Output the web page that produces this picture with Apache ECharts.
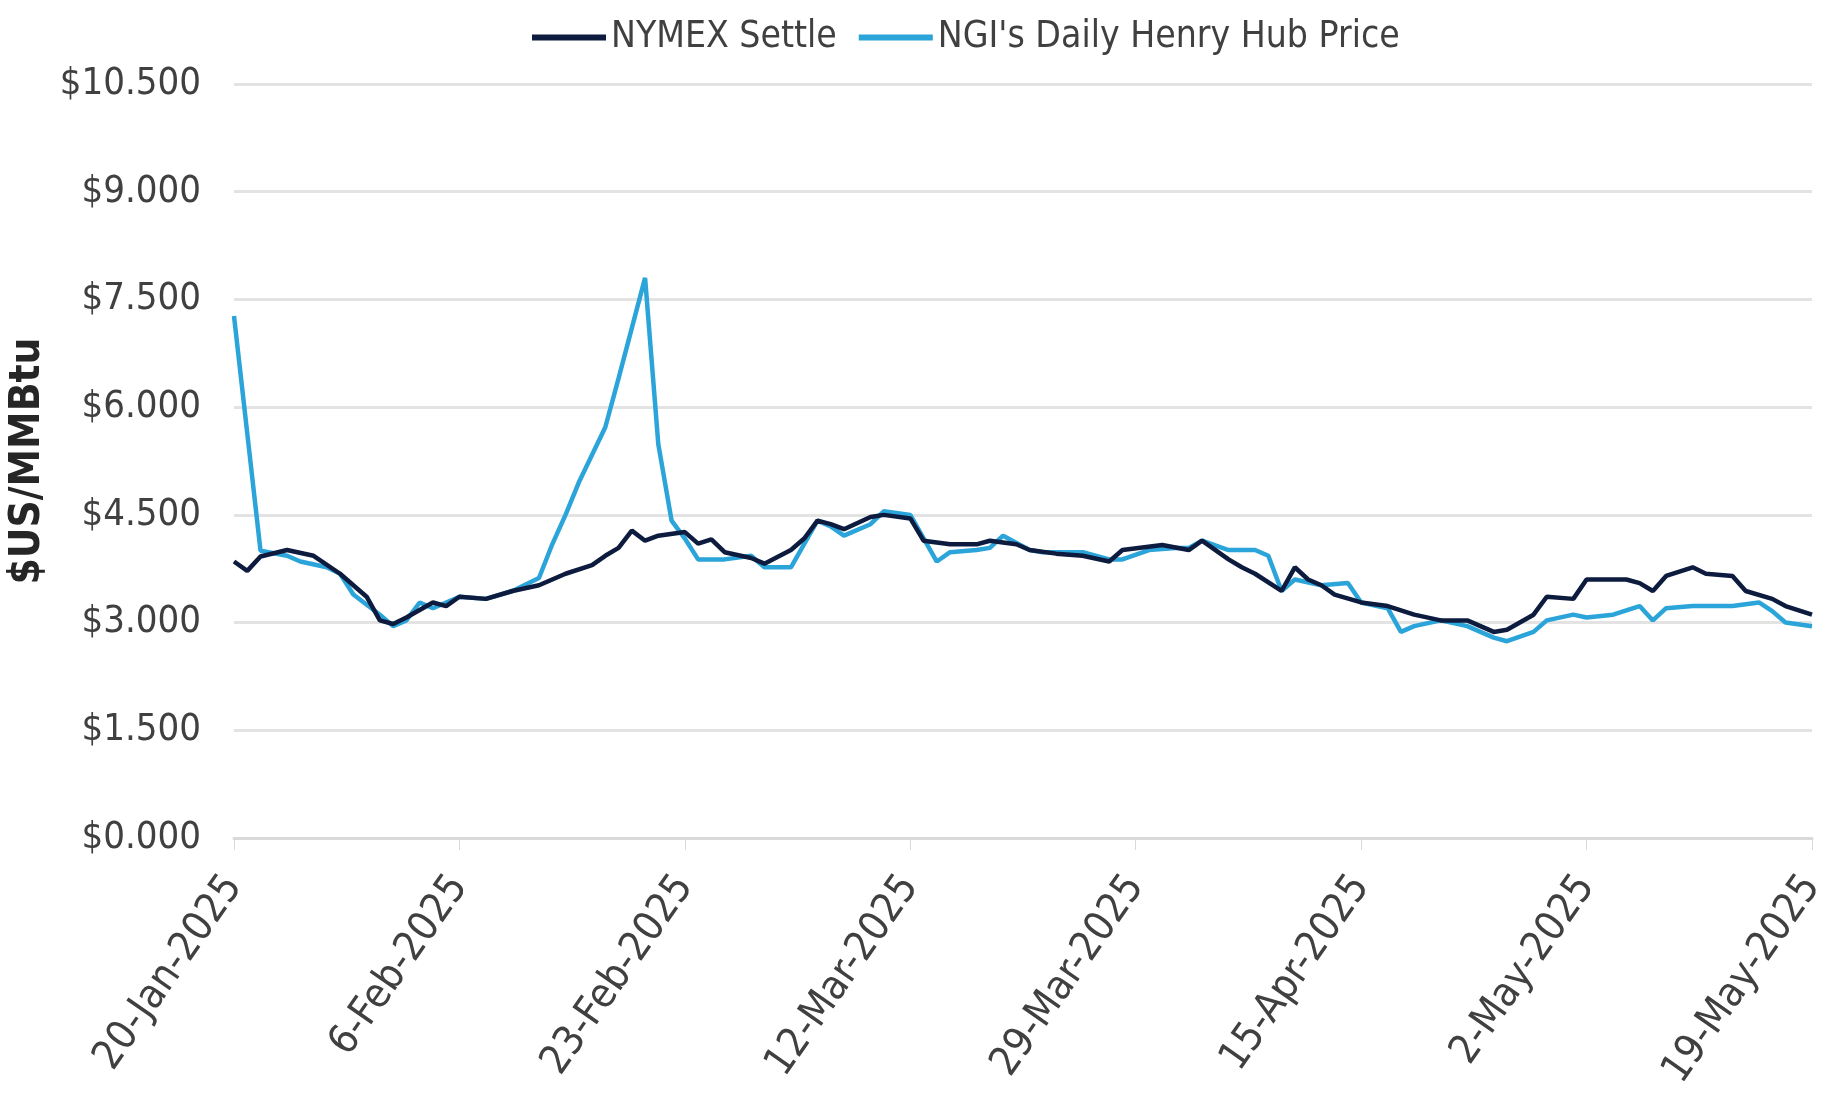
<!DOCTYPE html>
<html>
<head>
<meta charset="utf-8">
<script src="https://cdn.jsdelivr.net/npm/echarts@6/dist/echarts.min.js"></script>
<style>
  html, body { margin: 0; padding: 0; background: #fff; }
  #chart { width: 1835px; height: 1111px; }
</style>
</head>
<body>
<div id="chart"></div>
<script>
// x axis runs from 20-Jan-2025, one tick every 17 days
const startDate = '2025-01-20';
const tickDays = 17;
const lastDay = 119;
const monthNames = ['Jan', 'Feb', 'Mar', 'Apr', 'May', 'Jun', 'Jul', 'Aug', 'Sep', 'Oct', 'Nov', 'Dec'];

const nymexDates = [
	'2025-01-20', '2025-01-21', '2025-01-22', '2025-01-24', '2025-01-26', '2025-01-28', '2025-01-30', '2025-01-31',
	'2025-02-01', '2025-02-02', '2025-02-04', '2025-02-05', '2025-02-06', '2025-02-08', '2025-02-10', '2025-02-12',
	'2025-02-14', '2025-02-16', '2025-02-17', '2025-02-18', '2025-02-19', '2025-02-20', '2025-02-21', '2025-02-23',
	'2025-02-24', '2025-02-25', '2025-02-26', '2025-02-28', '2025-03-01', '2025-03-03', '2025-03-04', '2025-03-05',
	'2025-03-06', '2025-03-07', '2025-03-09', '2025-03-10', '2025-03-12', '2025-03-13', '2025-03-15', '2025-03-17',
	'2025-03-18', '2025-03-20', '2025-03-21', '2025-03-23', '2025-03-25', '2025-03-27', '2025-03-28', '2025-03-31',
	'2025-04-02', '2025-04-03', '2025-04-05', '2025-04-06', '2025-04-07', '2025-04-09', '2025-04-10', '2025-04-11',
	'2025-04-12', '2025-04-13', '2025-04-15', '2025-04-17', '2025-04-19', '2025-04-21', '2025-04-23', '2025-04-25',
	'2025-04-26', '2025-04-28', '2025-04-29', '2025-05-01', '2025-05-02', '2025-05-05', '2025-05-06', '2025-05-07',
	'2025-05-08', '2025-05-10', '2025-05-11', '2025-05-13', '2025-05-14', '2025-05-16', '2025-05-17', '2025-05-19'
];
const nymexValues = [
	3.85, 3.72, 3.92, 4.01, 3.93, 3.68, 3.36, 3.03,
	2.98, 3.07, 3.28, 3.23, 3.36, 3.33, 3.44, 3.52,
	3.68, 3.80, 3.93, 4.04, 4.28, 4.14, 4.21, 4.26,
	4.10, 4.16, 3.98, 3.90, 3.82, 4.01, 4.17, 4.42,
	4.37, 4.30, 4.47, 4.50, 4.45, 4.14, 4.09, 4.09,
	4.14, 4.09, 4.01, 3.96, 3.93, 3.85, 4.01, 4.08,
	4.01, 4.14, 3.88, 3.77, 3.68, 3.44, 3.77, 3.60,
	3.52, 3.39, 3.28, 3.23, 3.11, 3.03, 3.03, 2.87,
	2.90, 3.11, 3.36, 3.33, 3.60, 3.60, 3.55, 3.44,
	3.65, 3.77, 3.68, 3.65, 3.44, 3.33, 3.23, 3.11
];

const ngiDates = [
	'2025-01-20', '2025-01-22', '2025-01-24', '2025-01-25', '2025-01-27', '2025-01-28', '2025-01-29', '2025-01-31',
	'2025-02-01', '2025-02-02', '2025-02-03', '2025-02-04', '2025-02-06', '2025-02-08', '2025-02-10', '2025-02-12',
	'2025-02-13', '2025-02-14', '2025-02-15', '2025-02-17', '2025-02-18', '2025-02-20', '2025-02-21', '2025-02-22',
	'2025-02-23', '2025-02-24', '2025-02-26', '2025-02-28', '2025-03-01', '2025-03-03', '2025-03-05', '2025-03-06',
	'2025-03-07', '2025-03-09', '2025-03-10', '2025-03-12', '2025-03-14', '2025-03-15', '2025-03-17', '2025-03-18',
	'2025-03-19', '2025-03-21', '2025-03-22', '2025-03-25', '2025-03-27', '2025-03-28', '2025-03-30', '2025-04-01',
	'2025-04-02', '2025-04-03', '2025-04-05', '2025-04-07', '2025-04-08', '2025-04-09', '2025-04-10', '2025-04-12',
	'2025-04-14', '2025-04-15', '2025-04-17', '2025-04-18', '2025-04-19', '2025-04-21', '2025-04-23', '2025-04-25',
	'2025-04-26', '2025-04-28', '2025-04-29', '2025-05-01', '2025-05-02', '2025-05-04', '2025-05-06', '2025-05-07',
	'2025-05-08', '2025-05-10', '2025-05-13', '2025-05-15', '2025-05-16', '2025-05-17', '2025-05-19'
];
const ngiValues = [
	7.27, 4.00, 3.93, 3.85, 3.77, 3.68, 3.39, 3.11,
	2.95, 3.03, 3.28, 3.20, 3.36, 3.33, 3.44, 3.62,
	4.09, 4.50, 4.95, 5.72, 6.40, 7.80, 5.48, 4.42,
	4.17, 3.88, 3.88, 3.93, 3.77, 3.77, 4.42, 4.34,
	4.21, 4.37, 4.55, 4.50, 3.85, 3.98, 4.01, 4.04,
	4.21, 4.01, 3.98, 3.98, 3.88, 3.88, 4.01, 4.04,
	4.04, 4.14, 4.01, 4.01, 3.93, 3.44, 3.60, 3.52,
	3.55, 3.28, 3.20, 2.87, 2.95, 3.03, 2.95, 2.79,
	2.74, 2.87, 3.03, 3.11, 3.07, 3.11, 3.23, 3.03,
	3.20, 3.23, 3.23, 3.28, 3.16, 3.00, 2.95
];

const DAY = 86400000;
const startMs = Date.parse(startDate);
const toDay = (s) => Math.round((Date.parse(s) - startMs) / DAY);
const pairs = (dates, values) => dates.map((d, i) => [toDay(d), values[i]]);

const dayLabel = (v) => {
	const d = new Date(startMs + v * DAY);
	return d.getUTCDate() + '-' + monthNames[d.getUTCMonth()] + '-' + d.getUTCFullYear();
};

const narrow = "'DejaVu Sans Condensed', 'Liberation Sans Narrow', sans-serif";

const chart = echarts.init(document.getElementById('chart'));
const option = {
	backgroundColor: '#ffffff',
	animation: false,
	legend: {
		left: 527,
		top: 14,
		icon: 'rect',
		itemWidth: 74,
		itemHeight: 6,
		itemGap: 22,
		textStyle: { fontFamily: narrow, fontSize: 37, color: '#404040' },
		data: ['NYMEX Settle', "NGI's Daily Henry Hub Price"]
	},
	grid: { left: 234, right: 23, top: 84, bottom: 273, containLabel: false, outerBoundsMode: 'none' },
	xAxis: {
		type: 'value',
		min: 0,
		max: lastDay,
		interval: tickDays,
		splitLine: { show: false },
		axisLine: { show: true, lineStyle: { color: '#d9d9d9', width: 3 } },
		axisTick: { show: true, length: 12, lineStyle: { color: '#d9d9d9', width: 1 } },
		axisLabel: {
			rotate: 55,
			margin: 42,
			fontFamily: narrow,
			fontSize: 41,
			color: '#404040',
			formatter: (v) => dayLabel(v)
		}
	},
	yAxis: {
		type: 'value',
		min: 0,
		max: 10.5,
		interval: 1.5,
		name: '$US/MMBtu',
		nameLocation: 'middle',
		nameGap: 180,
		nameTextStyle: { fontFamily: narrow, fontSize: 42, fontWeight: 'bold', color: '#262626' },
		axisLine: { show: false },
		axisTick: { show: false },
		splitLine: { show: true, lineStyle: { color: '#e3e3e3', width: 3 } },
		axisLabel: {
			margin: 33,
			fontFamily: narrow,
			fontSize: 38,
			color: '#404040',
			formatter: (v) => '$' + v.toFixed(3)
		}
	},
	series: [
		{
			name: 'NYMEX Settle',
			type: 'line',
			showSymbol: false,
			symbol: 'none',
			z: 3,
			lineStyle: { color: '#0d1b3e', width: 4.5 },
			itemStyle: { color: '#0d1b3e' },
			data: pairs(nymexDates, nymexValues)
		},
		{
			name: "NGI's Daily Henry Hub Price",
			type: 'line',
			showSymbol: false,
			symbol: 'none',
			z: 2,
			lineStyle: { color: '#2ba4d9', width: 4.5 },
			itemStyle: { color: '#2ba4d9' },
			data: pairs(ngiDates, ngiValues)
		}
	]
};
chart.setOption(option);
</script>
</body>
</html>
